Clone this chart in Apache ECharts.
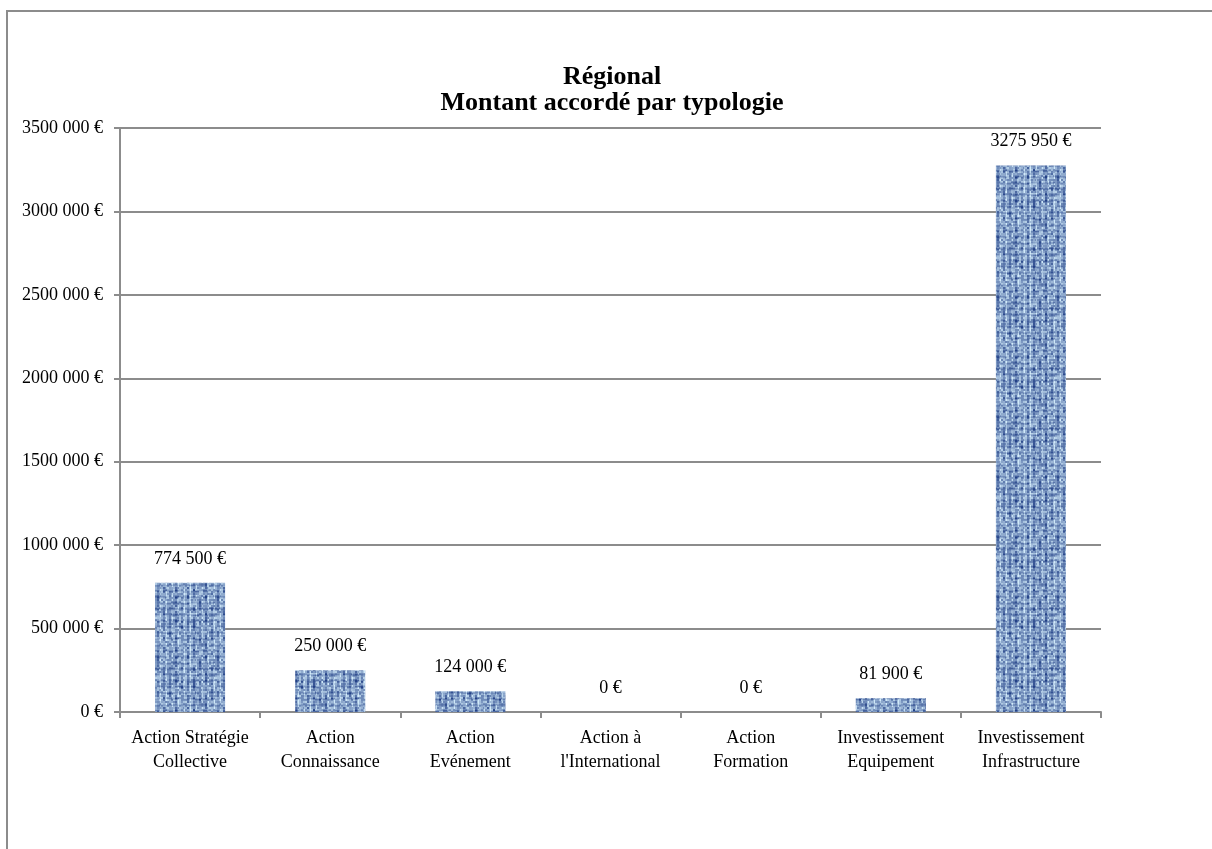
<!DOCTYPE html>
<html>
<head>
<meta charset="utf-8">
<script src="https://cdn.jsdelivr.net/npm/echarts@6/dist/echarts.min.js"></script>
<style>
  html, body { margin: 0; padding: 0; background: #fff; overflow: hidden; }
  #frame { position: absolute; left: 6px; top: 10px; width: 1300px; height: 900px;
           border-left: 2px solid #8c8c8c; border-top: 2px solid #8c8c8c; }
  #chart { position: absolute; left: 7px; top: 11px; width: 1210px; height: 838px; }
</style>
</head>
<body>
<div id="frame"></div>
<div id="chart"></div>
<script>
// données
var categories = [
  'Action Stratégie\nCollective',
  'Action\nConnaissance',
  'Action\nEvénement',
  "Action à\nl'International",
  'Action\nFormation',
  'Investissement\nEquipement',
  'Investissement\nInfrastructure'
]
var montants = [774500, 250000, 124000, 0, 0, 81900, 3275950]
var yMax = 3500000
var yStep = 500000

var serif = '"Liberation Serif", "DejaVu Serif", serif'

// format "3275 950 €" (un seul séparateur de milliers)
function euro(v) {
  v = Math.round(v)
  if (v < 1000) return v + ' €'
  var r = String(v % 1000)
  while (r.length < 3) r = '0' + r
  return Math.floor(v / 1000) + ' ' + r + ' €'
}

// texture "toile" bleue des barres (motif fixe, pas de hasard)
function makeTexture() {
  var size = 60
  var c = document.createElement('canvas')
  c.width = size
  c.height = size
  var ctx = c.getContext('2d')
  var img = ctx.createImageData(size, size)
  function h(x, y) {
    var n = (x * 374761393 + y * 668265263) | 0
    n = (n ^ (n >>> 13)) * 1274126177 | 0
    return ((n ^ (n >>> 16)) >>> 0) / 4294967295
  }
  for (var y = 0; y < size; y++) {
    for (var x = 0; x < size; x++) {
      var cx = Math.floor(x / 2), cy = Math.floor(y / 2)
      var t = 0.62 + (h(cx, cy) - 0.5) * 0.45
      // fils verticaux et horizontaux
      if (x % 6 === 0 || x % 6 === 1) t -= 0.32 * h(Math.floor(x / 6), Math.floor(y / 4) + 50)
      if (y % 6 === 3 || y % 6 === 4) t -= 0.28 * h(Math.floor(x / 4) + 200, Math.floor(y / 6))
      if (x % 6 === 3 && h(cx + 17, cy + 31) > 0.5) t += 0.3
      t = Math.max(0, Math.min(1, t))
      // du bleu foncé au bleu clair
      var r = 35 + t * 175, g = 65 + t * 170, b = 135 + t * 115
      var i = (y * size + x) * 4
      img.data[i] = r
      img.data[i + 1] = g
      img.data[i + 2] = b
      img.data[i + 3] = 255
    }
  }
  ctx.putImageData(img, 0, 0)
  return c
}

var myChart = echarts.init(document.getElementById('chart'))
var option = {
  animation: false,
  title: {
    text: 'Régional\nMontant accordé par typologie',
    left: 'center',
    top: 48,
    textStyle: { fontFamily: serif, fontSize: 26, fontWeight: 'bold', color: '#000', lineHeight: 26 }
  },
  grid: { left: 113, right: 116, top: 117, bottom: 137 },
  xAxis: {
    type: 'category',
    data: categories,
    axisLine: { lineStyle: { color: '#8c8c8c', width: 2 } },
    axisTick: { show: true, length: 6, lineStyle: { color: '#8c8c8c', width: 2 } },
    axisLabel: { fontFamily: serif, fontSize: 18, color: '#000', lineHeight: 24, margin: 14, interval: 0 }
  },
  yAxis: {
    type: 'value',
    min: 0,
    max: yMax,
    interval: yStep,
    axisLine: { show: true, lineStyle: { color: '#8c8c8c', width: 2 } },
    axisTick: { show: true, length: 6, lineStyle: { color: '#8c8c8c', width: 2 } },
    splitLine: { lineStyle: { color: '#8c8c8c', width: 2 } },
    axisLabel: { fontFamily: serif, fontSize: 18, color: '#000', margin: 17, formatter: euro }
  },
  series: [{
    type: 'bar',
    data: montants,
    barWidth: '50%',
    itemStyle: { color: { image: makeTexture(), repeat: 'repeat' } },
    label: {
      show: true,
      position: 'top',
      distance: 15,
      fontFamily: serif,
      fontSize: 18,
      color: '#000',
      formatter: function (p) { return euro(p.value) }
    }
  }]
}
myChart.setOption(option)
</script>
</body>
</html>
